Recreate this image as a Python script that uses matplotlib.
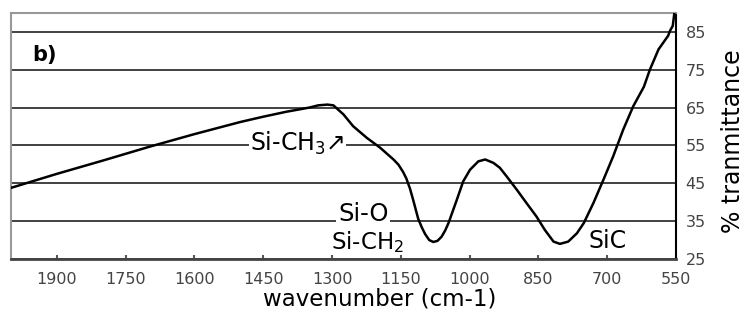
import matplotlib.pyplot as plt

# IR spectrum, panel b
wavenumber = [2000, 1900, 1800, 1700, 1600, 1500, 1450, 1400, 1350, 1330,
              1310, 1297, 1275, 1254, 1224, 1195, 1166, 1155, 1145, 1138,
              1130, 1123, 1112, 1104, 1097, 1088, 1079, 1070, 1061, 1053,
              1046, 1028, 1014, 999, 981, 966, 948, 934, 919, 897,
              876, 854, 836, 817, 803, 785, 766, 751, 730, 708,
              687, 665, 643, 620, 607, 588, 567, 563, 557, 555, 553]
transmittance = [43.8, 47.5, 51.0, 54.6, 58.0, 61.2, 62.6, 63.9, 65.0, 65.6,
                 65.8, 65.6, 63.2, 60.1, 57.0, 54.4, 51.3, 49.9, 48.0, 46.3,
                 43.6, 40.6, 35.6, 33.3, 31.6, 30.0, 29.5, 29.8, 30.9, 32.6,
                 34.5, 40.6, 45.5, 48.6, 50.8, 51.3, 50.4, 49.1, 46.8, 43.3,
                 39.8, 36.2, 32.7, 29.6, 29.0, 29.6, 31.8, 34.5, 39.8, 46.0,
                 52.1, 59.2, 65.4, 70.5, 75.0, 80.4, 84.0, 85.3, 86.6, 88.5, 90.5]

x_ticks = [1900, 1750, 1600, 1450, 1300, 1150, 1000, 850, 700, 550]
y_ticks = [25, 35, 45, 55, 65, 75, 85]

fig = plt.figure(figsize=(7.53, 3.21), dpi=100)
ax = fig.add_axes([0.0146, 0.1931, 0.8831, 0.7664])

ax.plot(wavenumber, transmittance, color='black', lw=1.8, zorder=4)

ax.set_xlim(2000, 550)
ax.set_ylim(25, 90)
ax.set_xticks(x_ticks)
ax.set_yticks(y_ticks)
ax.yaxis.tick_right()
ax.set_axisbelow(True)
ax.yaxis.grid(True, color='#333333', lw=1.3)

ax.tick_params(axis='y', length=0, pad=7, labelsize=11.5, labelcolor='#444444')
ax.tick_params(axis='x', direction='in', length=3, width=1.5, color='#555555',
               pad=9, labelsize=11.5, labelcolor='#444444')

for side, col, w in [('left', '#999999', 1.5), ('top', '#999999', 1.5),
                     ('right', 'black', 1.5), ('bottom', '#444444', 2.0)]:
    ax.spines[side].set_color(col)
    ax.spines[side].set_linewidth(w)

ax.set_xlabel('wavenumber (cm-1)', fontsize=16.5, va='center')
ax.xaxis.set_label_coords(0.555, -0.162)
ax.yaxis.set_label_position('right')
ax.set_ylabel('% tranmittance', fontsize=17, rotation=90, va='center', ha='center')
ax.yaxis.set_label_coords(1.086, 0.48)

box = dict(facecolor='white', edgecolor='none', pad=1)
ax.text(1926, 78.9, 'b)', fontsize=15, weight='semibold', ha='center', va='center')
ax.text(1375, 55.5, 'Si-CH$_3$\u2197', fontsize=17, ha='center', va='center', bbox=box)
ax.text(1232, 36.9, 'Si-O', fontsize=17.5, ha='center', va='center', bbox=box)
ax.text(1222, 29.5, 'Si-CH$_2$', fontsize=16.5, ha='center', va='center')
ax.text(700, 29.7, 'SiC', fontsize=17, ha='center', va='center')

fig.savefig('out.png', dpi=100)
